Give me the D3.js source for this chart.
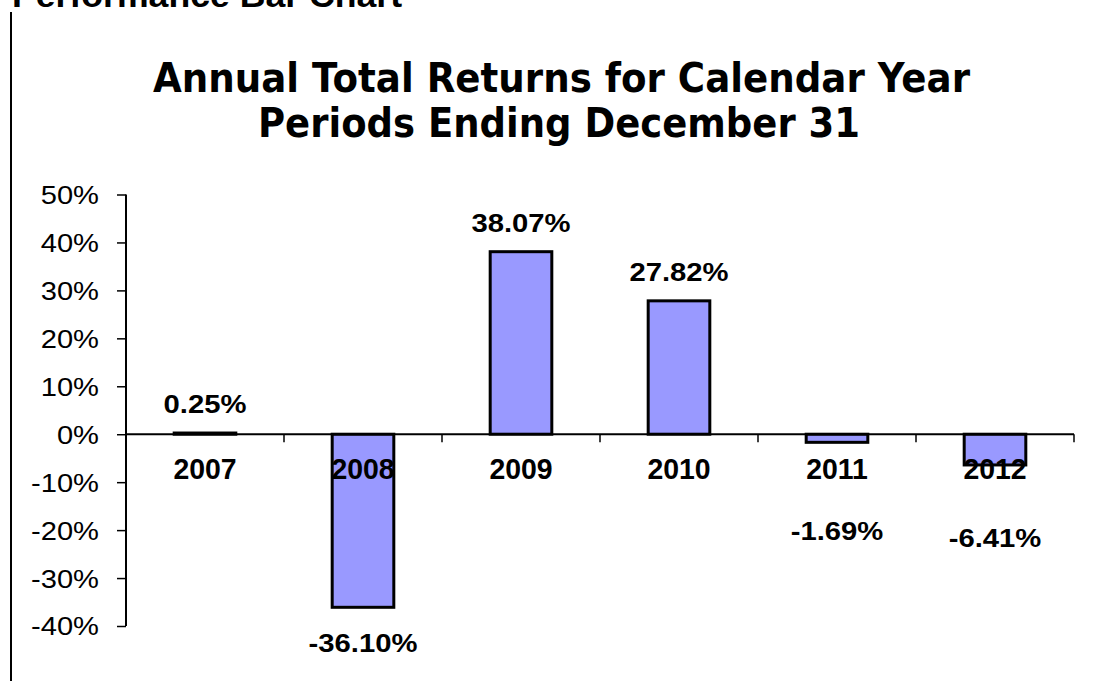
<!DOCTYPE html>
<html>
<head>
<meta charset="utf-8">
<script src="https://cdn.jsdelivr.net/npm/d3@7"></script>
<style>
  html, body { margin: 0; padding: 0; background: #fff; }
  svg { display: block; }
</style>
</head>
<body>
<svg id="chart" width="1111" height="681"></svg>
<script>
// ---- data ----
const categories = ["2007", "2008", "2009", "2010", "2011", "2012"];
const returns = [0.25, -36.10, 38.07, 27.82, -1.69, -6.41];
const yTickValues = [-40, -30, -20, -10, 0, 10, 20, 30, 40, 50];
const titleLines = ["Annual Total Returns for Calendar Year", "Periods Ending December 31"];
const headingText = "Performance Bar Chart";

// ---- layout (label offsets from bar end, px) ----
const labelOffsets = [-20, 45, -20, -20, 98, 82];

const svg = d3.select("#chart");
const W = 1111, H = 681;

const x = d3.scaleBand().domain(categories).range([126, 1074]).padding(0);
const y = d3.scaleLinear().domain([-40, 50]).range([626, 194.5]);
const barW = x.bandwidth() * 0.39;

function stretchText(sel, sx) {
  sel.each(function() {
    const t = d3.select(this);
    const tx = +t.attr("data-x"), ty = +t.attr("data-y");
    t.attr("transform", `translate(${tx},${ty}) scale(${sx},1)`);
  });
}

// page heading (cut off at top)
svg.append("text")
  .attr("x", 12).attr("y", 7)
  .attr("font-family", "Liberation Sans, Arial, sans-serif")
  .attr("font-weight", "bold")
  .attr("font-size", 33)
  .attr("textLength", 390)
  .attr("lengthAdjust", "spacingAndGlyphs")
  .text(headingText);

// left page border line
svg.append("line")
  .attr("x1", 11).attr("x2", 11).attr("y1", 12).attr("y2", H)
  .attr("stroke", "#000").attr("stroke-width", 2);

// title
const titleY = [92, 137];
const titleLen = [817, 602];
svg.selectAll("text.title").data(titleLines).join("text")
  .attr("class", "title")
  .attr("x", (d, i) => i === 0 ? 153 : 258)
  .attr("y", (d, i) => titleY[i])
  .attr("font-family", "DejaVu Sans, Verdana, sans-serif")
  .attr("font-weight", "bold")
  .attr("font-size", 41)
  .attr("textLength", (d, i) => titleLen[i])
  .attr("lengthAdjust", "spacingAndGlyphs")
  .text(d => d);

// y axis
const yAxis = svg.append("g")
  .attr("transform", "translate(126,0)")
  .call(d3.axisLeft(y).tickValues(yTickValues).tickSize(9).tickFormat(d => d + "%"));
yAxis.select(".domain").attr("stroke", "#000").attr("stroke-width", 2)
  .attr("d", `M0,${y(50)}V${y(-40)}`);
yAxis.selectAll(".tick line").attr("stroke", "#000").attr("stroke-width", 1.5);
yAxis.selectAll(".tick text")
  .attr("font-family", "Liberation Sans, Arial, sans-serif")
  .attr("font-size", 26)
  .attr("fill", "#000")
  .attr("text-anchor", "end")
  .attr("x", null).attr("dy", null)
  .attr("dominant-baseline", "central")
  .attr("data-x", -27).attr("data-y", 0)
  .call(stretchText, 1.12);

// bars
svg.selectAll("rect.bar").data(returns).join("rect")
  .attr("class", "bar")
  .attr("x", (d, i) => x(categories[i]) + x.bandwidth() / 2 - barW / 2)
  .attr("width", barW)
  .attr("y", d => y(Math.max(0, d)))
  .attr("height", d => Math.abs(y(d) - y(0)))
  .attr("fill", "#9999FF")
  .attr("stroke", "#000")
  .attr("stroke-width", 3);

// x axis (at zero)
const xAxis = svg.append("g")
  .attr("transform", `translate(0,${y(0)})`)
  .call(d3.axisBottom(x).tickSize(0).tickFormat(""));
xAxis.select(".domain").attr("stroke", "#000").attr("stroke-width", 2)
  .attr("d", `M126,0H1074`);
xAxis.selectAll(".tick").remove();
// boundary ticks
const boundaries = categories.slice(1).map(c => x(c)).concat([x.range()[1]]);
xAxis.selectAll("line.bt").data(boundaries).join("line")
  .attr("class", "bt")
  .attr("x1", d => d).attr("x2", d => d)
  .attr("y1", 0).attr("y2", 8)
  .attr("stroke", "#000").attr("stroke-width", 1.5);

// category labels
svg.selectAll("text.cat").data(categories).join("text")
  .attr("class", "cat")
  .attr("text-anchor", "middle")
  .attr("font-family", "Liberation Sans, Arial, sans-serif")
  .attr("font-weight", "bold")
  .attr("font-size", 29)
  .attr("data-x", d => x(d) + x.bandwidth() / 2)
  .attr("data-y", y(0) + 45)
  .text(d => d)
  .call(stretchText, 0.98);

// value labels
svg.selectAll("text.val").data(returns).join("text")
  .attr("class", "val")
  .attr("text-anchor", "middle")
  .attr("font-family", "Liberation Sans, Arial, sans-serif")
  .attr("font-weight", "bold")
  .attr("font-size", 25)
  .attr("data-x", (d, i) => x(categories[i]) + x.bandwidth() / 2)
  .attr("data-y", (d, i) => y(d) + labelOffsets[i])
  .text(d => d.toFixed(2) + "%")
  .call(stretchText, 1.17);
</script>
</body>
</html>
